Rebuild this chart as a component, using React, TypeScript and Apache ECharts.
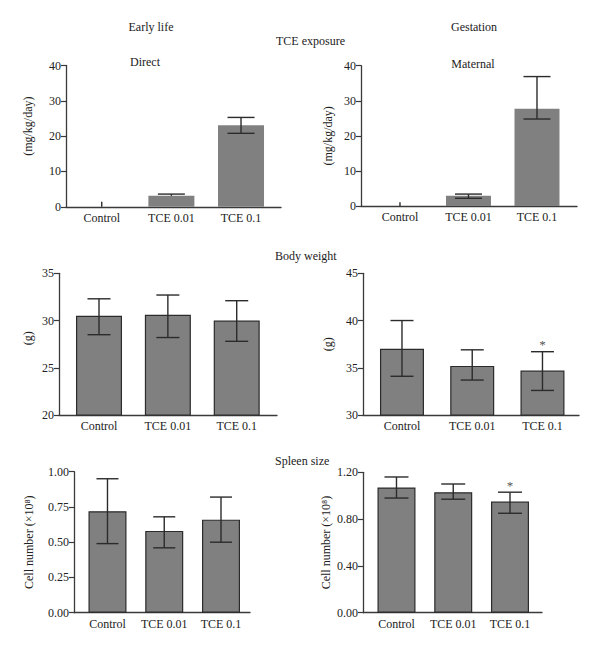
import React, { useEffect, useRef } from "react";
import * as echarts from "echarts";

// ---------- data ----------
const categories = ["Control", "TCE 0.01", "TCE 0.1"];

// TCE exposure (mg/kg/day)
const directMean = [0, 3.1, 23.1];
const directLow = [0, 3.1, 20.8];
const directHigh = [1.4, 3.6, 25.3];

const maternalMean = [0, 2.9, 27.7];
const maternalLow = [0, 2.2, 24.8];
const maternalHigh = [1.1, 3.4, 36.9];

// Body weight (g)
const earlyWeightMean = [30.5, 30.6, 30.0];
const earlyWeightLow = [28.5, 28.2, 27.8];
const earlyWeightHigh = [32.3, 32.7, 32.1];

const gestWeightMean = [37.0, 35.2, 34.7];
const gestWeightLow = [34.1, 33.7, 32.6];
const gestWeightHigh = [40.0, 36.9, 36.7];

// Spleen size, cell number (x10^8)
const earlySpleenMean = [0.72, 0.58, 0.66];
const earlySpleenLow = [0.49, 0.46, 0.5];
const earlySpleenHigh = [0.95, 0.68, 0.82];

const gestSpleenMean = [1.07, 1.03, 0.95];
const gestSpleenLow = [0.98, 0.97, 0.85];
const gestSpleenHigh = [1.16, 1.1, 1.03];

// significance marks
const noSig = ["", "", ""];
const gestWeightSig = ["", "", "*"];
const gestSpleenSig = ["", "", "*"];

// y-axis tick ranges [min, max, step]
const exposureTicks = [0, 40, 10];
const earlyWeightTicks = [20, 35, 5];
const gestWeightTicks = [30, 45, 5];
const earlySpleenTicks = [0, 1, 0.25];
const gestSpleenTicks = [0, 1.2, 0.4];

// ---------- styles ----------
const FONT = "'Liberation Serif', 'Times New Roman', serif";
const TEXT = "#222222";
const AXIS = "#3a3a3a";
const BAR = "#808080";
const BAR_EDGE = "#2b2b2b";
const ERR = "#2b2b2b";

type Panel = {
  mean: number[];
  low: number[];
  high: number[];
  sig: string[];
  ticks: number[];
  decimals: number;
  yName: string;
  namePad: number[];
  nameGap: number;
  left: number;
  top: number;
  width: number;
  height: number;
  xMin: number;
  xMax: number;
  barWidth: number;
  capWidth: number;
  border: boolean;
};

const panels: Panel[] = [
  {
    mean: directMean, low: directLow, high: directHigh, sig: noSig,
    ticks: exposureTicks, decimals: 0, yName: "(mg/kg/day)", namePad: [0, 0, 0, 20], nameGap: 32,
    left: 66, top: 65.5, width: 215, height: 141.3, xMin: -0.513, xMax: 2.574,
    barWidth: 46, capWidth: 27, border: false,
  },
  {
    mean: maternalMean, low: maternalLow, high: maternalHigh, sig: noSig,
    ticks: exposureTicks, decimals: 0, yName: "(mg/kg/day)", namePad: [0, 0, 0, 0], nameGap: 27,
    left: 361, top: 65.7, width: 216, height: 140.3, xMin: -0.569, xMax: 2.584,
    barWidth: 45, capWidth: 27, border: false,
  },
  {
    mean: earlyWeightMean, low: earlyWeightLow, high: earlyWeightHigh, sig: noSig,
    ticks: earlyWeightTicks, decimals: 0, yName: "(g)", namePad: [0, 0, 0, 12], nameGap: 25,
    left: 59, top: 273.3, width: 218, height: 141.7, xMin: -0.581, xMax: 2.585,
    barWidth: 46, capWidth: 23, border: true,
  },
  {
    mean: gestWeightMean, low: gestWeightLow, high: gestWeightHigh, sig: gestWeightSig,
    ticks: gestWeightTicks, decimals: 0, yName: "(g)", namePad: [0, 0, 0, 0], nameGap: 29,
    left: 363, top: 273.3, width: 216, height: 141.7, xMin: -0.555, xMax: 2.52,
    barWidth: 44, capWidth: 23, border: true,
  },
  {
    mean: earlySpleenMean, low: earlySpleenLow, high: earlySpleenHigh, sig: noSig,
    ticks: earlySpleenTicks, decimals: 2, yName: "Cell number (×10⁸)", namePad: [0, 0, 0, 0], nameGap: 39,
    left: 74, top: 471.7, width: 176, height: 141, xMin: -0.59, xMax: 2.511,
    barWidth: 38, capWidth: 22, border: true,
  },
  {
    mean: gestSpleenMean, low: gestSpleenLow, high: gestSpleenHigh, sig: gestSpleenSig,
    ticks: gestSpleenTicks, decimals: 2, yName: "Cell number (×10⁸)", namePad: [0, 0, 0, 0], nameGap: 31,
    left: 363, top: 472.3, width: 179, height: 140.4, xMin: -0.59, xMax: 2.564,
    barWidth: 38, capWidth: 24, border: true,
  },
];

const headings = [
  { text: "Early life", x: 151, y: 27, align: "center" },
  { text: "Gestation", x: 474, y: 27, align: "center" },
  { text: "TCE exposure", x: 276, y: 41, align: "left" },
  { text: "Direct", x: 145, y: 62, align: "center" },
  { text: "Maternal", x: 473, y: 64, align: "center" },
  { text: "Body weight", x: 275, y: 256, align: "left" },
  { text: "Spleen size", x: 275, y: 461, align: "left" },
];

function buildOption() {
  const grid = panels.map((p) => ({
    left: p.left,
    top: p.top,
    width: p.width,
    height: p.height,
    containLabel: false,
  }));

  const xAxis = panels.map((p, i) => ({
    type: "value",
    gridIndex: i,
    min: p.xMin,
    max: p.xMax,
    splitLine: { show: false },
    axisTick: { show: false },
    axisLine: { show: true, onZero: false, lineStyle: { color: AXIS, width: 1.3 } },
    axisLabel: {
      customValues: [0, 1, 2],
      formatter: (v: number) => categories[Math.round(v)] ?? "",
      margin: 5,
      fontFamily: FONT,
      fontSize: 12,
      color: TEXT,
    },
  }));

  const yAxis = panels.map((p, i) => ({
    type: "value",
    gridIndex: i,
    min: p.ticks[0],
    max: p.ticks[1],
    interval: p.ticks[2],
    splitLine: { show: false },
    axisLine: { show: true, onZero: false, lineStyle: { color: AXIS, width: 1.3 } },
    axisTick: { show: true, length: 5, lineStyle: { color: AXIS, width: 1.2 } },
    axisLabel: {
      formatter: (v: number) => v.toFixed(p.decimals),
      margin: 5,
      fontFamily: FONT,
      fontSize: 12,
      color: TEXT,
    },
    name: p.yName,
    nameLocation: "middle",
    nameGap: p.nameGap,
    nameTextStyle: { fontFamily: FONT, fontSize: 12, color: TEXT, padding: p.namePad },
  }));

  const series: any[] = [];
  panels.forEach((p, i) => {
    series.push({
      type: "bar",
      xAxisIndex: i,
      yAxisIndex: i,
      data: p.mean.map((v, k) => [k, v]),
      barWidth: p.barWidth,
      itemStyle: {
        color: BAR,
        borderColor: p.border ? BAR_EDGE : BAR,
        borderWidth: p.border ? 1.2 : 0,
      },
      z: 2,
    });
    series.push({
      type: "custom",
      xAxisIndex: i,
      yAxisIndex: i,
      itemStyle: { color: ERR },
      data: p.mean.map((v, k) => [k, p.low[k], p.high[k], v]),
      z: 3,
      renderItem: (params: any, api: any) => {
        const x = api.value(0);
        const lo = api.value(1);
        const hi = api.value(2);
        const m = api.value(3);
        const pLo = api.coord([x, lo]);
        const pHi = api.coord([x, hi]);
        const h = p.capWidth / 2;
        const style = { stroke: ERR, lineWidth: 1.4 };
        const children: any[] = [
          { type: "line", shape: { x1: pLo[0], y1: pLo[1], x2: pHi[0], y2: pHi[1] }, style },
        ];
        if (m > 0) {
          children.push({ type: "line", shape: { x1: pHi[0] - h, y1: pHi[1], x2: pHi[0] + h, y2: pHi[1] }, style });
          if (lo < m) {
            children.push({ type: "line", shape: { x1: pLo[0] - h, y1: pLo[1], x2: pLo[0] + h, y2: pLo[1] }, style });
          }
        }
        return { type: "group", children };
      },
    });
    const sigData = p.sig
      .map((s, k) => (s ? { value: [k, p.high[k]], mark: s } : null))
      .filter((d) => d !== null);
    if (sigData.length) {
      series.push({
        type: "scatter",
        xAxisIndex: i,
        yAxisIndex: i,
        data: sigData,
        symbol: "circle",
        symbolSize: 1,
        itemStyle: { color: "rgba(0,0,0,0)" },
        label: {
          show: true,
          position: "top",
          distance: 0,
          formatter: (d: any) => d.data.mark,
          color: TEXT,
          fontFamily: FONT,
          fontSize: 13,
        },
        z: 4,
      });
    }
  });

  const graphic = headings.map((h) => ({
    type: "text",
    x: h.x,
    y: h.y,
    style: {
      text: h.text,
      fill: TEXT,
      fontFamily: FONT,
      fontSize: 12,
      align: h.align,
      verticalAlign: "middle",
    },
  }));

  return {
    animation: false,
    backgroundColor: "#ffffff",
    grid,
    xAxis,
    yAxis,
    series,
    graphic,
  };
}

export default function App() {
  const ref = useRef<HTMLDivElement>(null);
  useEffect(() => {
    if (!ref.current) return;
    const chart = echarts.init(ref.current, undefined, { renderer: "svg" });
    chart.setOption(buildOption() as any);
    return () => chart.dispose();
  }, []);
  return (
    <div
      ref={ref}
      style={{ position: "absolute", left: 0, top: 0, width: 600, height: 652, background: "#fff" }}
    />
  );
}
